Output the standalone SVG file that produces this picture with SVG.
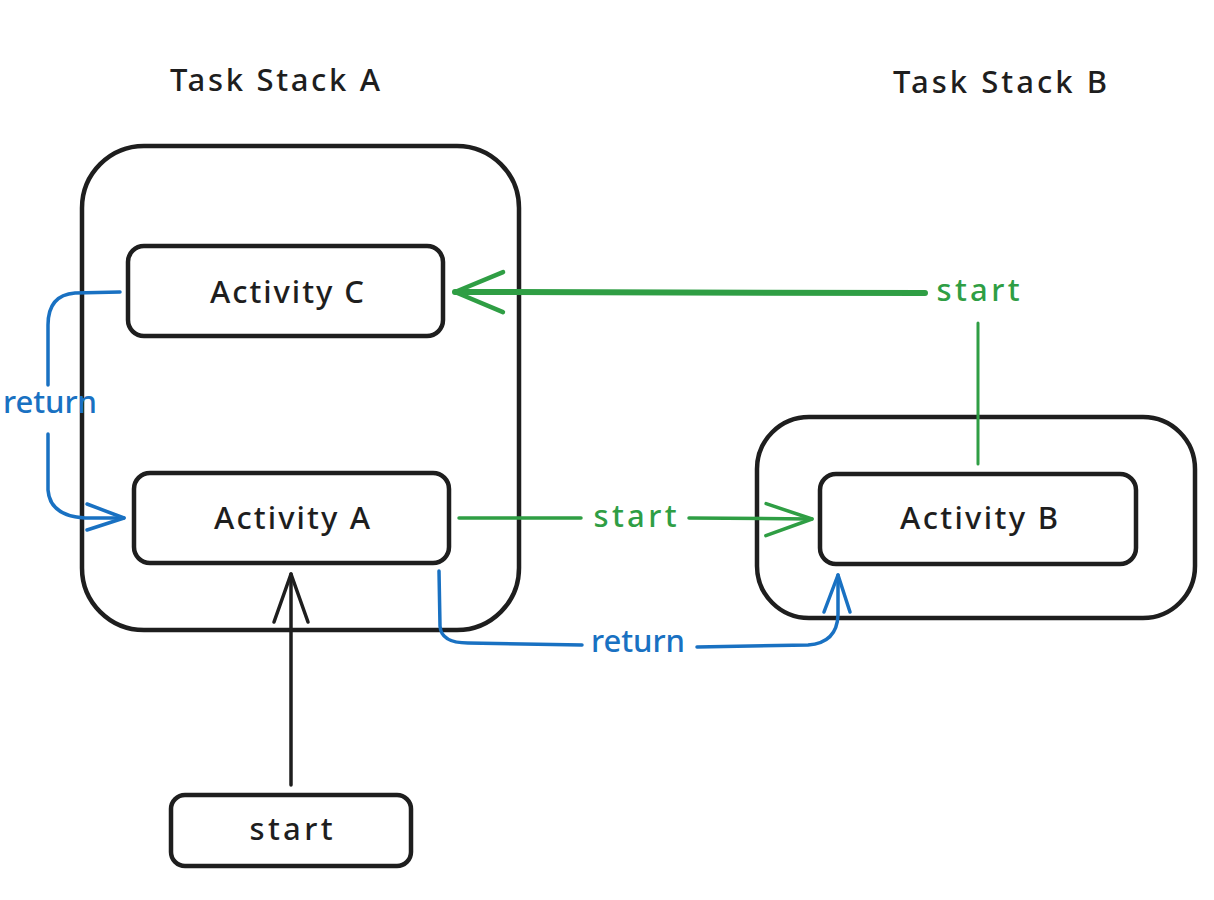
<svg xmlns="http://www.w3.org/2000/svg" width="1214" height="900" viewBox="0 0 1214 900">
  <style>
    .box { fill: #ffffff; stroke: #1e1e1e; stroke-width: 4.5; }
    .cont { fill: none; stroke: #1e1e1e; stroke-width: 4.5; }
    .t { font-family: "Noto Sans", "Liberation Sans", sans-serif; font-size: 31px; font-weight: 500; text-anchor: middle; }
    .dark { fill: #1e1e1e; }
    .green { fill: #2f9e44; }
    .blue { fill: #1971c2; }
    .lg { fill: none; stroke: #2f9e44; stroke-linecap: round; stroke-linejoin: round; }
    .lb { fill: none; stroke: #1971c2; stroke-width: 3.5; stroke-linecap: round; stroke-linejoin: round; }
    .lk { fill: none; stroke: #1e1e1e; stroke-width: 3.5; stroke-linecap: round; stroke-linejoin: round; }
  </style>
  <defs>
    <marker id="arrGL" viewBox="-52 -24 56 48" refX="0" refY="0" markerWidth="56" markerHeight="48" markerUnits="userSpaceOnUse" orient="auto">
      <path d="M-48,-20 L0,0 L-48,20" fill="none" stroke="#2f9e44" stroke-width="4.5" stroke-linecap="round" stroke-linejoin="round"/>
    </marker>
    <marker id="arrG" viewBox="-50 -20 54 40" refX="0" refY="0" markerWidth="54" markerHeight="40" markerUnits="userSpaceOnUse" orient="auto">
      <path d="M-46,-15 L0,0 L-46,17" fill="none" stroke="#2f9e44" stroke-width="3.5" stroke-linecap="round" stroke-linejoin="round"/>
    </marker>
    <marker id="arrB" viewBox="-42 -18 46 36" refX="0" refY="0" markerWidth="46" markerHeight="36" markerUnits="userSpaceOnUse" orient="auto">
      <path d="M-37,-14 L0,0 L-37,12" fill="none" stroke="#1971c2" stroke-width="3.5" stroke-linecap="round" stroke-linejoin="round"/>
    </marker>
    <marker id="arrK" viewBox="-52 -20 56 40" refX="0" refY="0" markerWidth="56" markerHeight="40" markerUnits="userSpaceOnUse" orient="auto">
      <path d="M-48,-17 L0,0 L-48,17" fill="none" stroke="#1e1e1e" stroke-width="3.5" stroke-linecap="round" stroke-linejoin="round"/>
    </marker>
  </defs>
  <rect x="0" y="0" width="1214" height="900" fill="#ffffff"/>

  <g id="title-a"><text class="t dark" x="275" y="91" textLength="210" lengthAdjust="spacing">Task Stack A</text></g>
  <g id="title-b"><text class="t dark" x="1000" y="93" textLength="214" lengthAdjust="spacing">Task Stack B</text></g>

  <g id="task-stack-a"><rect class="cont" x="82" y="146" width="437" height="484" rx="62" ry="62"/></g>
  <g id="task-stack-b"><rect class="cont" x="757" y="417" width="438" height="201" rx="52" ry="52"/></g>

  <g id="activity-c">
    <rect class="box" x="128" y="246" width="315" height="90" rx="16" ry="16"/>
    <text class="t dark" x="287" y="303" textLength="154" lengthAdjust="spacing">Activity C</text>
  </g>
  <g id="activity-a">
    <rect class="box" x="134" y="473" width="315" height="90" rx="16" ry="16"/>
    <text class="t dark" x="292" y="529" textLength="156" lengthAdjust="spacing">Activity A</text>
  </g>
  <g id="activity-b">
    <rect class="box" x="820" y="474" width="316" height="90" rx="16" ry="16"/>
    <text class="t dark" x="979" y="529" textLength="158" lengthAdjust="spacing">Activity B</text>
  </g>
  <g id="start-node">
    <rect class="box" x="171" y="795" width="240" height="71" rx="14" ry="14"/>
    <text class="t dark" x="291" y="840" textLength="83" lengthAdjust="spacing">start</text>
  </g>

  <g id="connectors">
    <!-- B to C (start) -->
    <path class="lg" stroke-width="3" d="M978,464 L978,323"/>
    <path class="lg" stroke-width="6" d="M925,293 L455,292" marker-end="url(#arrGL)"/>
    <text class="t green" x="978" y="301" textLength="83" lengthAdjust="spacing">start</text>
    <!-- A to B (start) -->
    <path class="lg" stroke-width="3.5" d="M459,518 L581,518"/>
    <path class="lg" stroke-width="3.5" d="M689,518 L812,519" marker-end="url(#arrG)"/>
    <text class="t green" x="635" y="527" textLength="83" lengthAdjust="spacing">start</text>
    <!-- C to A (return) -->
    <path class="lb" d="M120,292 L75,293 Q48,295 48,325 L48,385"/>
    <path class="lb" d="M48,434 L48,490 Q50,516 85,518 L124,518" marker-end="url(#arrB)"/>
    <text class="t blue" x="50" y="413" textLength="94" lengthAdjust="spacing">return</text>
    <!-- A to B (return) -->
    <path class="lb" d="M439,571 L440,626 Q441,643 468,643 L582,645"/>
    <path class="lb" d="M697,647 L808,645 Q837,643 838,615 L838,575" marker-end="url(#arrB)"/>
    <text class="t blue" x="638" y="652" textLength="94" lengthAdjust="spacing">return</text>
    <!-- start to A -->
    <path class="lk" d="M291,785 L291,574" marker-end="url(#arrK)"/>
  </g>
</svg>
